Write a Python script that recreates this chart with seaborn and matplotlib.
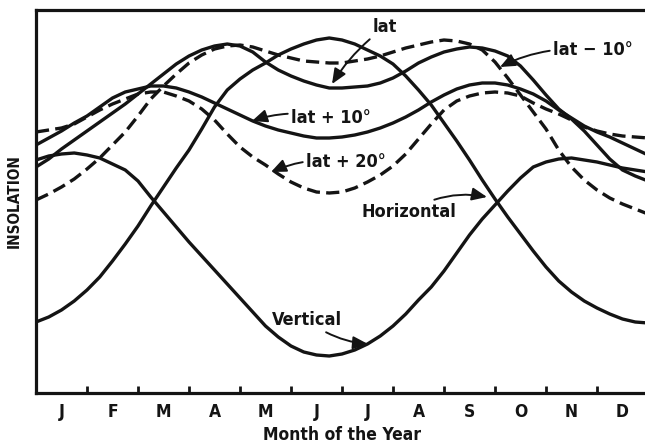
import numpy as np
import pandas as pd
import matplotlib
matplotlib.use("Agg")
import matplotlib.pyplot as plt
import seaborn as sns

# ---- data (arbitrary insolation units) ----
months = [i * 0.25 for i in range(49)]  # 0 .. 12 months
horizontal = [71, 76, 83, 92, 103, 116, 132, 149, 167, 187, 206, 225, 243, 264, 286, 303,
              314, 323, 330, 338, 344, 349, 353, 355, 353, 349, 343, 337, 329, 317, 303, 288,
              270, 252, 233, 213, 194, 176, 159, 142, 126, 112, 101, 92, 85, 79, 74, 71, 70]
vertical = [233, 237, 239, 240, 238, 235, 229, 223, 212, 196, 181, 166, 151, 137, 123, 109,
            95, 81, 67, 56, 47, 41, 38, 37, 39, 43, 49, 57, 67, 79, 93, 106,
            122, 140, 158, 174, 188, 202, 215, 226, 231, 234, 235, 233, 231, 228, 225, 223, 221]
lat = [226, 234, 244, 253, 262, 271, 280, 289, 299, 309, 319, 329, 337, 343, 347, 349,
       347, 341, 331, 323, 317, 312, 308, 305, 305, 306, 307, 310, 315, 322, 330, 336,
       341, 344, 346, 345, 342, 337, 327, 313, 298, 284, 274, 262, 248, 234, 223, 217, 212]
lat_p10 = [248, 255, 262, 270, 277, 286, 295, 301, 304, 307, 307, 305, 301, 296, 290, 284,
           278, 272, 267, 263, 260, 257, 255, 255, 256, 258, 261, 265, 270, 276, 283, 291,
           298, 304, 308, 310, 310, 308, 304, 299, 292, 283, 275, 267, 261, 256, 250, 244, 238]
lat_p20 = [261, 263, 265, 269, 276, 283, 289, 294, 299, 301, 301, 297, 292, 284, 273, 259,
           246, 236, 228, 219, 211, 205, 201, 200, 201, 205, 211, 218, 227, 239, 254, 269,
           283, 292, 297, 300, 301, 300, 297, 290, 284, 279, 273, 266, 262, 259, 257, 256, 255]
lat_m10 = [193, 199, 206, 214, 224, 235, 248, 261, 277, 294, 307, 319, 330, 338, 344, 347,
           348, 346, 342, 338, 335, 332, 331, 330, 330, 332, 334, 337, 341, 345, 348, 351,
           353, 352, 349, 343, 331, 315, 298, 281, 264, 243, 226, 213, 203, 195, 189, 184, 179]

month_labels = ["J", "F", "M", "A", "M", "J", "J", "A", "S", "O", "N", "D"]
series_names = ["Horizontal", "Vertical", "lat", "lat + 10°", "lat + 20°", "lat \u2212 10°"]
series_values = [horizontal, vertical, lat, lat_p10, lat_p20, lat_m10]
dashed_series = ["lat + 20°", "lat \u2212 10°"]

rows = []
for name, vals in zip(series_names, series_values):
    for m, v in zip(months, vals):
        rows.append({"month": m, "insolation": v, "series": name})
df = pd.DataFrame(rows)

# ---- figure ----
sns.set_theme(style="white")
FONT = ["DejaVu Sans"]
plt.rcParams["font.family"] = FONT
plt.rcParams["font.weight"] = "bold"
plt.rcParams["font.stretch"] = "condensed"
INK = "#141414"

fig = plt.figure(figsize=(6.45, 4.45), dpi=100)
ax = fig.add_axes([36 / 645, 52 / 445, 612 / 645, 383 / 445])

lw = 2.4
dash = (9.5 / lw, 4.5 / lw)
dashes = {n: (dash if n in dashed_series else "") for n in series_names}
palette = {n: INK for n in series_names}

sns.lineplot(data=df, x="month", y="insolation", hue="series", style="series",
             palette=palette, dashes=dashes, linewidth=lw, legend=False,
             errorbar=None, sort=True, ax=ax)
for ln in ax.get_lines():
    ln.set_solid_joinstyle("round")
    ln.set_dash_joinstyle("round")

ax.set_xlim(0, 12)
ax.set_ylim(0, 383)

for side in ["left", "bottom", "top"]:
    ax.spines[side].set_linewidth(2.3)
    ax.spines[side].set_color(INK)
ax.spines["right"].set_visible(False)

# ticks: marks at month boundaries, labels at month centres
ax.set_xticks(np.arange(1, 12))
ax.set_xticklabels([])
ax.tick_params(axis="x", which="major", direction="in", length=5, width=2,
               color=INK, bottom=True)
ax.set_xticks(np.arange(12) + 0.5, minor=True)
ax.set_xticklabels(month_labels, minor=True, fontsize=12.5, fontweight="bold",
                   fontstretch="condensed")
ax.tick_params(axis="x", which="minor", length=0, pad=7, labelcolor=INK)
ax.set_yticks([])

ax.set_xlabel("Month of the Year", fontsize=12.5, fontweight="bold",
              fontstretch="condensed", labelpad=4, color=INK)
ax.set_ylabel("INSOLATION", fontsize=11, fontweight="bold",
              fontstretch="condensed", labelpad=10, color=INK)

# ---- annotations ----
def px(x):
    return (x - 36) / 51.0

def py(y):
    return 393 - y

ann_kw = dict(fontsize=13, fontweight="bold", fontstretch="condensed", color=INK)
arrow = dict(arrowstyle="-|>,head_length=0.7,head_width=0.3", color=INK,
             lw=1.4, shrinkA=0, shrinkB=0)

ax.annotate("lat", xy=(px(332), py(84)), xytext=(px(373), py(27)),
            ha="left", va="center",
            arrowprops=dict(**arrow, connectionstyle="arc3,rad=0.1"), **ann_kw)
ax.annotate("lat + 10°", xy=(px(252), py(121)), xytext=(px(291), py(118)),
            ha="left", va="center",
            arrowprops=dict(**arrow, connectionstyle="arc3,rad=0.15"), **ann_kw)
ax.annotate("lat + 20°", xy=(px(271), py(172)), xytext=(px(306), py(162)),
            ha="left", va="center",
            arrowprops=dict(**arrow, connectionstyle="arc3,rad=0.15"), **ann_kw)
ax.annotate("lat \u2212 10°", xy=(px(500), py(67)), xytext=(px(553), py(50)),
            ha="left", va="center",
            arrowprops=dict(**arrow, connectionstyle="arc3,rad=0.15"), **ann_kw)
ax.annotate("Horizontal", xy=(px(487), py(197)), xytext=(px(456), py(212)),
            ha="right", va="center",
            arrowprops=dict(**arrow, connectionstyle="arc3,rad=-0.2"), **ann_kw)
ax.annotate("Vertical", xy=(px(368), py(344)), xytext=(px(342), py(320)),
            ha="right", va="center",
            arrowprops=dict(**arrow, connectionstyle="arc3,rad=0.15"), **ann_kw)

fig.savefig("out.png", dpi=100)
